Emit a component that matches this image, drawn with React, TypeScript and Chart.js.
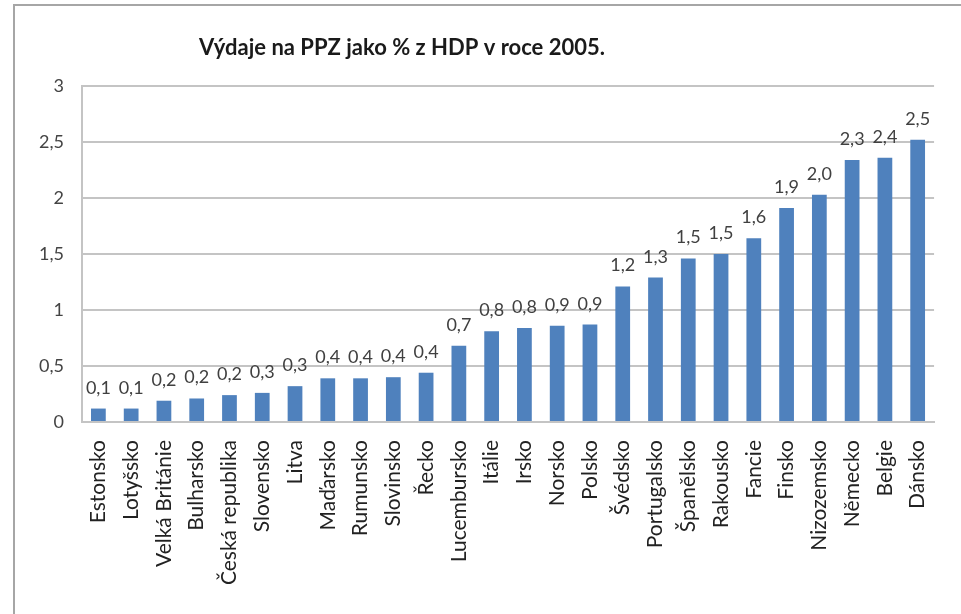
import { useEffect, useRef } from "react";
import { Chart, registerables } from "chart.js";

Chart.register(...registerables);

const TITLE = "Výdaje na PPZ jako % z HDP v roce 2005.";

const categories = [
  "Estonsko",
  "Lotyšsko",
  "Velká Británie",
  "Bulharsko",
  "Česká republika",
  "Slovensko",
  "Litva",
  "Maďarsko",
  "Rumunsko",
  "Slovinsko",
  "Řecko",
  "Lucembursko",
  "Itálie",
  "Irsko",
  "Norsko",
  "Polsko",
  "Švédsko",
  "Portugalsko",
  "Španělsko",
  "Rakousko",
  "Fancie",
  "Finsko",
  "Nizozemsko",
  "Německo",
  "Belgie",
  "Dánsko",
];

const values = [
  0.12, 0.12, 0.19, 0.21, 0.24, 0.26, 0.32, 0.39, 0.39, 0.4, 0.44, 0.68, 0.81,
  0.84, 0.86, 0.87, 1.21, 1.29, 1.46, 1.5, 1.64, 1.91, 2.03, 2.34, 2.36, 2.52,
];

const yTicks = [0, 0.5, 1, 1.5, 2, 2.5, 3];

const FONT = "Lato";
const fmt = (v: number) => String(v).replace(".", ",");
const fmt1 = (v: number) => (Math.round(v * 10) / 10).toFixed(1).replace(".", ",");

const titlePlugin = {
  id: "customTitle",
  afterDraw(chart: any) {
    const ctx = chart.ctx;
    ctx.save();
    ctx.font = `bold 22px ${FONT}`;
    ctx.fillStyle = "#1a1a1a";
    ctx.textAlign = "center";
    ctx.textBaseline = "alphabetic";
    ctx.fillText(TITLE, 402, 55);
    ctx.restore();
  },
};

const valueLabels = {
  id: "valueLabels",
  afterDatasetsDraw(chart: any) {
    const ctx = chart.ctx;
    const meta = chart.getDatasetMeta(0);
    ctx.save();
    ctx.font = `18px ${FONT}`;
    ctx.fillStyle = "#404040";
    ctx.textAlign = "center";
    ctx.textBaseline = "alphabetic";
    meta.data.forEach((bar: any, i: number) => {
      ctx.fillText(fmt1(values[i]), bar.x, bar.y - 15);
    });
    ctx.restore();
  },
};

export default function App() {
  const ref = useRef<HTMLCanvasElement | null>(null);

  useEffect(() => {
    if (!ref.current) return;
    const chart = new Chart(ref.current, {
      type: "bar",
      data: {
        labels: categories,
        datasets: [
          {
            data: values,
            backgroundColor: "#4F81BD",
            borderWidth: 0,
            barPercentage: 0.45,
            categoryPercentage: 1,
          },
        ],
      },
      options: {
        responsive: false,
        animation: false,
        layout: { padding: { top: 86, right: 7, left: 0, bottom: 0 } },
        plugins: {
          legend: { display: false },
          title: { display: false },
          tooltip: { enabled: false },
        },
        scales: {
          x: {
            afterFit: (s: any) => {
              s.height = 192;
            },
            grid: { display: false, drawTicks: false },
            border: { display: true, color: "#c4c4c4", width: 2 },
            ticks: {
              autoSkip: false,
              maxRotation: 90,
              minRotation: 90,
              padding: 18,
              color: "#222222",
              font: { family: FONT, size: 21 },
            },
          },
          y: {
            min: 0,
            max: 3,
            afterFit: (s: any) => {
              s.width = 82;
            },
            afterBuildTicks: (s: any) => {
              s.ticks = yTicks.map((v) => ({ value: v }));
            },
            grid: { color: "#c4c4c4", lineWidth: 2, drawTicks: false },
            border: { display: true, color: "#c4c4c4", width: 2 },
            ticks: {
              padding: 18,
              color: "#444444",
              font: { family: FONT, size: 18 },
              callback: (v: any) => fmt(Number(v)),
            },
          },
        },
      },
      plugins: [titlePlugin, valueLabels],
    });
    return () => chart.destroy();
  }, []);

  return (
    <div
      style={{
        position: "absolute",
        left: 0,
        top: 0,
        width: 961,
        height: 614,
        overflow: "hidden",
        background: "#ffffff",
      }}
    >
      <div
        style={{
          position: "absolute",
          left: 13,
          top: 4,
          width: 1000,
          height: 1000,
          border: "2px solid #a6a6a6",
        }}
      />
      <canvas
        ref={ref}
        width={961}
        height={614}
        style={{ position: "absolute", left: 0, top: 0 }}
      />
    </div>
  );
}
